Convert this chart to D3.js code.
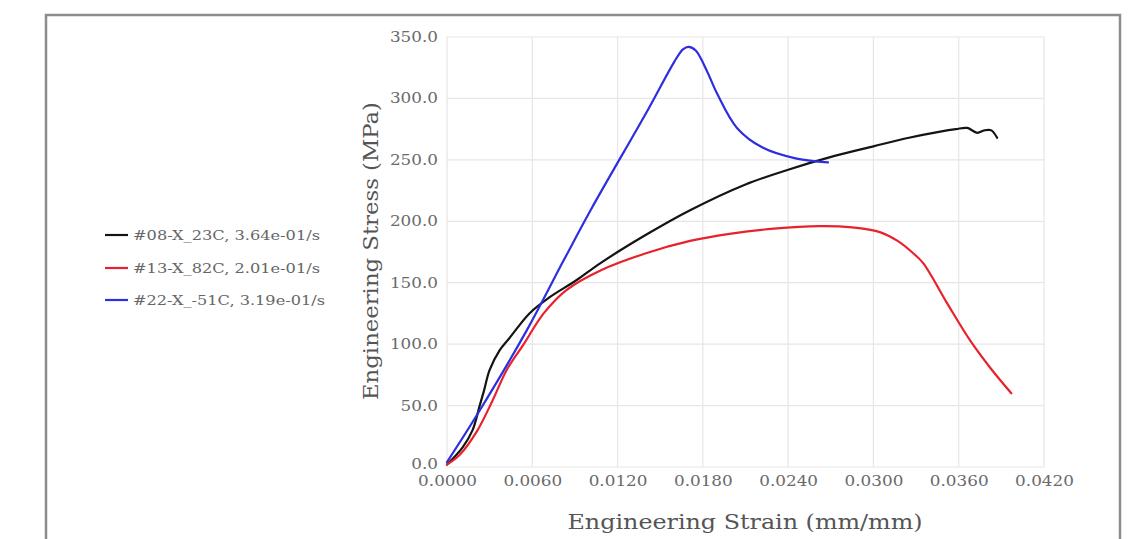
<!DOCTYPE html>
<html>
<head>
<meta charset="utf-8">
<script src="https://cdn.jsdelivr.net/npm/d3@7"></script>
<style>
  html, body { margin: 0; padding: 0; background: #fff; }
  svg { display: block; }
</style>
</head>
<body>
<svg id="chart" width="1142" height="539"></svg>
<script>
// Specimen names shown in the legend
const seriesNames = ["#08-X_23C, 3.64e-01/s", "#13-X_82C, 2.01e-01/s", "#22-X_-51C, 3.19e-01/s"];
const seriesColors = ["#141414", "#e8222c", "#2e2ee0"];

// Strain (mm/mm) and stress (MPa) samples for each specimen
const strain08 = [0, 0.0011, 0.0018, 0.0023, 0.0026, 0.0030, 0.0037, 0.0044, 0.0058, 0.0072, 0.0091, 0.0108, 0.0140, 0.0171, 0.0210, 0.0240, 0.0269, 0.0300, 0.0325, 0.0347, 0.0358, 0.0366, 0.0373, 0.0378, 0.0383, 0.0387];
const stress08 = [2, 16, 30, 50, 62, 79, 95, 105, 125, 138, 152, 166, 189, 209, 230, 242, 252, 261, 268, 273, 275, 276, 272, 274, 274, 268];

const strain13 = [0, 0.0009, 0.0021, 0.0032, 0.0042, 0.0054, 0.0068, 0.0084, 0.0108, 0.0140, 0.0171, 0.0200, 0.0230, 0.0262, 0.0285, 0.0305, 0.0317, 0.0328, 0.0335, 0.0352, 0.0368, 0.0382, 0.0397];
const stress13 = [2, 10, 29, 54, 79, 100, 125, 144, 160, 174, 184, 190, 194, 196, 195, 191, 184, 174, 166, 133, 103, 81, 60];

const strain22 = [0, 0.0023, 0.0056, 0.0082, 0.0101, 0.0141, 0.0160, 0.0166, 0.0170, 0.0175, 0.0183, 0.0190, 0.0204, 0.0222, 0.0246, 0.0268];
const stress22 = [4, 46, 111, 168, 209, 290, 330, 340, 342, 339, 322, 304, 276, 260, 251, 248];

// Axis tick values
const strainTicks = [0, 0.006, 0.012, 0.018, 0.024, 0.030, 0.036, 0.042];
const stressTicks = [0, 50, 100, 150, 200, 250, 300, 350];

const series = [
  { name: seriesNames[0], color: seriesColors[0], pts: strain08.map((x, i) => [x, stress08[i]]) },
  { name: seriesNames[1], color: seriesColors[1], pts: strain13.map((x, i) => [x, stress13[i]]) },
  { name: seriesNames[2], color: seriesColors[2], pts: strain22.map((x, i) => [x, stress22[i]]) }
];

const svg = d3.select("#chart");
const serif = "'DejaVu Serif', serif";

// Widen text horizontally by a factor, keeping its font height
function widen(sel, factor) {
  sel.each(function () {
    const w = this.getComputedTextLength();
    d3.select(this).attr("textLength", w * factor).attr("lengthAdjust", "spacingAndGlyphs");
  });
}

// Outer frame
svg.append("rect")
  .attr("x", 46).attr("y", 15)
  .attr("width", 1074).attr("height", 560)
  .attr("fill", "#fff")
  .attr("stroke", "#8c8c8c").attr("stroke-width", 2.5);

const plot = { left: 447, right: 1044, top: 37, bottom: 467 };

const x = d3.scaleLinear().domain([0, 0.042]).range([plot.left, plot.right]);
const y = d3.scaleLinear().domain([0, 350]).range([plot.bottom, plot.top]);

// Grid lines
const grid = svg.append("g");
grid.selectAll("line.v").data(strainTicks).join("line")
  .attr("x1", d => x(d)).attr("x2", d => x(d))
  .attr("y1", plot.top).attr("y2", plot.bottom)
  .attr("stroke", "#e6e6e6").attr("stroke-width", 1.2);
grid.selectAll("line.h").data(stressTicks).join("line")
  .attr("x1", plot.left).attr("x2", plot.right)
  .attr("y1", d => y(d)).attr("y2", d => y(d))
  .attr("stroke", "#e6e6e6").attr("stroke-width", 1.2);

// Axes
const xAxis = svg.append("g")
  .attr("transform", `translate(0,${plot.bottom})`)
  .call(d3.axisBottom(x).tickValues(strainTicks).tickFormat(d3.format(".4f")).tickSize(0).tickPadding(9));
const yAxis = svg.append("g")
  .attr("transform", `translate(${plot.left - 1},0)`)
  .call(d3.axisLeft(y).tickValues(stressTicks).tickFormat(d3.format(".1f")).tickSize(0).tickPadding(8));
[xAxis, yAxis].forEach(ax => {
  ax.select(".domain").remove();
  ax.selectAll("text")
    .attr("fill", "#6a6a6a")
    .style("font-family", serif)
    .style("font-size", "14px");
  widen(ax.selectAll("text"), 1.2);
});
// The zero stress label sits a little above the strain labels at the corner
yAxis.selectAll(".tick").filter(d => d === 0).select("text").attr("y", -3);

// Curves
const line = d3.line()
  .x(d => x(d[0]))
  .y(d => y(d[1]))
  .curve(d3.curveCatmullRom.alpha(0.5));

svg.append("g").selectAll("path").data(series).join("path")
  .attr("d", d => line(d.pts))
  .attr("fill", "none")
  .attr("stroke", d => d.color)
  .attr("stroke-width", 2.2)
  .attr("stroke-linejoin", "round")
  .attr("stroke-linecap", "round");

// Axis titles
svg.append("text")
  .attr("x", 745).attr("y", 529)
  .attr("text-anchor", "middle")
  .attr("fill", "#555")
  .attr("textLength", 355).attr("lengthAdjust", "spacingAndGlyphs")
  .style("font-family", serif)
  .style("font-size", "21px")
  .text("Engineering Strain (mm/mm)");

svg.append("text")
  .attr("transform", "translate(378,251) rotate(-90)")
  .attr("text-anchor", "middle")
  .attr("fill", "#555")
  .attr("textLength", 298).attr("lengthAdjust", "spacingAndGlyphs")
  .style("font-family", serif)
  .style("font-size", "20px")
  .text("Engineering Stress (MPa)");

// Legend
const legendY = [235, 268, 300];
const legendW = [187, 187, 192];
const legend = svg.append("g").attr("transform", "translate(105,0)");
const rows = legend.selectAll("g").data(series).join("g")
  .attr("transform", (d, i) => `translate(0,${legendY[i]})`);
rows.append("line")
  .attr("x1", 0).attr("x2", 23).attr("y1", 0).attr("y2", 0)
  .attr("stroke", d => d.color).attr("stroke-width", 2.2);
rows.append("text")
  .attr("x", 28).attr("y", 5)
  .attr("fill", "#666")
  .attr("textLength", (d, i) => legendW[i]).attr("lengthAdjust", "spacingAndGlyphs")
  .style("font-family", serif)
  .style("font-size", "13px")
  .text(d => d.name);
</script>
</body>
</html>
